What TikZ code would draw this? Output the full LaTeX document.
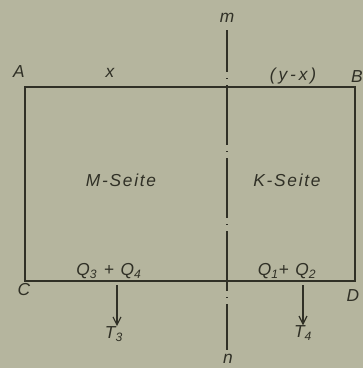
\documentclass[tikz,border=0pt]{standalone}
\usepackage{fontspec}
\newfontfamily\hand[LetterSpace=10]{Liberation Sans}
\usetikzlibrary{arrows.meta}
\definecolor{paper}{RGB}{181,181,158}
\definecolor{ink}{RGB}{48,48,38}
\tikzset{lbl/.style = {inner sep = 0, text = ink,
    font = \hand\itshape\fontsize{13}{15}\selectfont}}
\tikzset{frame/.style = {ink, line width = 1.4pt}}
\tikzset{axisline/.style = {ink, line width = 0.9pt,
    dash pattern = on 45pt off 4.5pt on 0.8pt off 4.5pt, dash phase = 13.5pt}}
\tikzset{down/.style = {ink, line width = 0.9pt, -{Straight Barb[length = 6pt, width = 6pt]}}}

\begin{document}
\begin{tikzpicture}[x = 0.75pt, y = -0.75pt]
      \fill [paper] (0, 0) rectangle (363, 368);
      \useasboundingbox (0, 0) rectangle (363, 368);
      % frame
      \draw [frame] (25, 87) rectangle (355, 281);
      % axis m - n
      \node [lbl] (m) at (227, 18) {m};
      \node [lbl] (n) at (228, 359) {n};
      \coordinate (mtop) at (227, 30);
      \coordinate (nbot) at (227, 350);
      \draw [axisline] (mtop) -- (nbot);
      % corners
      \node [lbl] (A) at (19, 72) {A};
      \node [lbl] (B) at (357, 77) {B};
      \node [lbl] (C) at (24, 290) {C};
      \node [lbl] (D) at (353, 296) {D};
      % top labels
      \node [lbl] (x) at (110, 73) {x};
      \node [lbl] (yx) at (293, 76) {(\,y\,-\,x\,)};
      % sides
      \node [lbl] (M) at (121, 180) {M-Seite};
      \node [lbl] (K) at (287, 180) {K-Seite};
      % loads
      \node [lbl] (Q34) at (109, 271) {Q\textsubscript{3} + Q\textsubscript{4}};
      \node [lbl] (Q12) at (287, 271) {Q\textsubscript{1}+ Q\textsubscript{2}};
      \coordinate (s3) at (117, 285);
      \coordinate (s4) at (303, 285);
      \node [lbl] (T3) at (114, 334) {T\textsubscript{3}};
      \node [lbl] (T4) at (303, 333) {T\textsubscript{4}};
      \draw [down] (s3) -- (s3 |- T3.north);
      \draw [down] (s4) -- (s4 |- T4.north);
\end{tikzpicture}
\end{document}
